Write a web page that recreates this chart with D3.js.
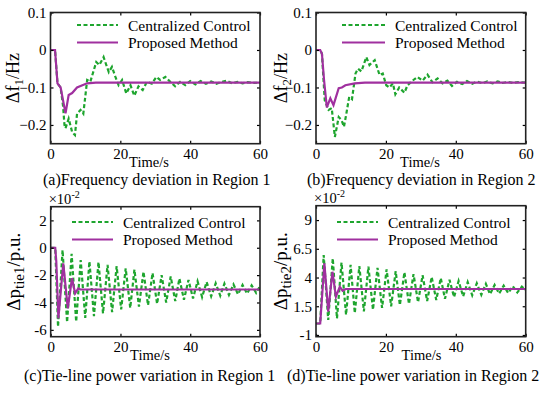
<!DOCTYPE html>
<html>
<head>
<meta charset="utf-8">
<script src="https://cdn.jsdelivr.net/npm/d3@7"></script>
<style>
  body { margin: 0; background: #fff; }
  svg text { font-family: "Liberation Serif", "Times New Roman", serif; }
</style>
</head>
<body>
<svg id="chart" width="550" height="395"></svg>
<script>
// tick labels
const timeTicks = [0, 20, 40, 60]
const freqTicks = [0.1, 0, -0.1, -0.2]
const tie1Ticks = [2, 0, -2, -4, -6]
const tie2Ticks = [9, 6.5, 4, 1.5, -1]

// series, [time s, value]
const f1Central = [[0,0],[1.3,0],[2.0,-0.089],[2.9,-0.1],[3.6,-0.15],[4.0,-0.2],[4.3,-0.209],[5.2,-0.183],[6.2,-0.219],[7.0,-0.227],[7.6,-0.17],[8.6,-0.16],[9.4,-0.17],[10.5,-0.08],[11.4,-0.085],[13.1,-0.032],[14.0,-0.04],[15.2,-0.019],[16.7,-0.059],[17.6,-0.045],[18.6,-0.072],[19.5,-0.094],[20.5,-0.08],[21.7,-0.116],[22.9,-0.094],[24.0,-0.122],[25.2,-0.097],[26.4,-0.107],[27.6,-0.085],[29.0,-0.09],[30.3,-0.072],[31.4,-0.08],[32.9,-0.072],[34.3,-0.085],[35.7,-0.097],[37.1,-0.085],[38.6,-0.094],[40,-0.083],[41.5,-0.092],[43,-0.083],[44.5,-0.09],[46,-0.084],[47.5,-0.09],[49,-0.085],[50.5,-0.082],[52,-0.089],[53.5,-0.085],[55,-0.089],[56.5,-0.086],[58,-0.088],[60,-0.087]]
const f1Proposed = [[0,0],[1.3,0],[2.0,-0.089],[2.9,-0.1],[4.3,-0.169],[5.2,-0.12],[6.2,-0.115],[7.6,-0.1],[10.5,-0.089],[13,-0.087],[60,-0.087]]

const f2Central = [[0,0],[1.2,0],[1.7,-0.01],[2.5,-0.134],[3.6,-0.16],[4.5,-0.155],[5.4,-0.232],[6.5,-0.179],[7.3,-0.187],[8.0,-0.205],[8.7,-0.169],[9.5,-0.125],[10.3,-0.131],[11.3,-0.063],[12.0,-0.05],[13.0,-0.057],[14.4,-0.019],[15.3,-0.04],[16.8,-0.027],[18.2,-0.067],[19.1,-0.063],[20.1,-0.094],[21.0,-0.1],[22.0,-0.089],[22.7,-0.118],[23.8,-0.1],[25.3,-0.114],[26.2,-0.094],[27.6,-0.082],[29.0,-0.072],[30.5,-0.082],[31.9,-0.066],[33.3,-0.086],[34.8,-0.076],[36.2,-0.089],[37.6,-0.082],[38.9,-0.096],[40.3,-0.085],[41.8,-0.091],[43.2,-0.083],[44.7,-0.09],[46.1,-0.084],[47.6,-0.089],[49,-0.084],[50.5,-0.089],[52,-0.084],[53.4,-0.088],[54.9,-0.085],[56.3,-0.088],[57.8,-0.086],[60,-0.087]]
const f2Proposed = [[0,0],[1.2,0],[1.7,-0.01],[2.3,-0.08],[3.1,-0.153],[4.1,-0.129],[5.0,-0.147],[6.5,-0.102],[7.4,-0.1],[8.4,-0.094],[11.1,-0.089],[14,-0.087],[60,-0.087]]

const tie1Central = [[0,0],[1.3,0],[2.1,-5.77],[3.4,-0.17],[4.7,-5.45],[6.0,-0.45],[7.3,-5.4],[8.6,-0.9],[9.9,-5.12],[11.1,-1.0],[12.4,-5.0],[13.7,-1.05],[15.0,-4.8],[16.3,-1.25],[17.6,-4.7],[18.9,-1.35],[20.2,-4.5],[21.5,-1.5],[22.8,-4.4],[24.0,-1.6],[25.3,-4.3],[26.6,-1.75],[27.9,-4.2],[29.2,-1.85],[30.5,-4.1],[31.8,-2.0],[33.1,-4.0],[34.4,-2.1],[35.7,-3.9],[36.9,-2.25],[38.2,-3.8],[39.5,-2.35],[40.8,-3.7],[42.1,-2.45],[43.4,-3.6],[44.7,-2.5],[46.0,-3.55],[47.3,-2.6],[48.6,-3.5],[49.8,-2.62],[51.1,-3.45],[52.4,-2.68],[53.7,-3.4],[55.0,-2.72],[56.3,-3.35],[57.6,-2.75],[58.9,-3.3],[60,-2.8]]
const tie1Proposed = [[0,0],[1.3,0],[1.6,-1.0],[2.2,-5.16],[3.6,-1.14],[4.9,-4.43],[6.1,-2.23],[7.0,-3.33],[7.9,-2.97],[8.5,-3.05],[60,-3.05]]

const tie2Central = [[0,0],[1.2,0],[2.2,5.96],[3.5,0.3],[4.8,5.67],[6.0,0.45],[7.3,5.3],[8.6,0.75],[9.9,5.1],[11.1,0.9],[12.4,5.0],[13.7,1.05],[15.0,4.95],[16.3,1.2],[17.6,4.85],[18.9,1.35],[20.2,4.7],[21.5,1.5],[22.8,4.55],[24.0,1.6],[25.3,4.45],[26.6,1.7],[27.9,4.3],[29.2,1.85],[30.5,4.2],[31.8,1.95],[33.1,4.05],[34.4,2.05],[35.7,3.95],[36.9,2.15],[38.2,3.8],[39.5,2.3],[40.8,3.7],[42.1,2.35],[43.4,3.6],[44.7,2.45],[46.0,3.5],[47.3,2.5],[48.6,3.45],[49.8,2.55],[51.1,3.35],[52.4,2.6],[53.7,3.3],[55.0,2.65],[56.3,3.25],[57.6,2.7],[58.9,3.2],[60,2.9]]
const tie2Proposed = [[0,0],[1.2,0],[2.4,5.24],[3.5,1.03],[4.7,4.5],[5.7,2.33],[6.8,3.2],[7.6,2.85],[8.5,3.0],[60,3.0]]

const legendNames = ["Centralized Control", "Proposed Method"]
const captions = ["(a)Frequency deviation in Region 1", "(b)Frequency deviation in Region 2",
                  "(c)Tie-line power variation in Region 1", "(d)Tie-line power variation in Region 2"]

const green = "#1ea52e"
const purple = "#a0309f"

const svg = d3.select("#chart")

const panels = [
  {l: 50.5, t: 12.5, r: 260, b: 143.7, ydom: [-0.25, 0.1], yticks: freqTicks, fmt: d => d === 0 ? "0" : d3.format(".1f")(d),
   central: f1Central, proposed: f1Proposed, ylab: ["Δf", "1", "/Hz"], ylfs: [18, 13], ylx: 19, xlab: 149,
   leg: [77, 118, 25], cap: [43, 185], exp: false},
  {l: 316, t: 12.5, r: 525.7, b: 143.7, ydom: [-0.25, 0.1], yticks: freqTicks, fmt: d => d === 0 ? "0" : d3.format(".1f")(d),
   central: f2Central, proposed: f2Proposed, ylab: ["Δf", "2", "/Hz"], ylfs: [18, 13], ylx: 287, xlab: 420,
   leg: [342, 385, 25], cap: [307, 185], exp: false},
  {l: 50.7, t: 206.7, r: 260, b: 336.7, ydom: [-6.5, 3], yticks: tie1Ticks, fmt: d => String(d),
   central: tie1Central, proposed: tie1Proposed, ylab: ["Δp", "tie1", "/p.u."], ylfs: [19, 15], ylx: 20, xlab: 150,
   leg: [72, 113, 222], cap: [24, 381], exp: true},
  {l: 316, t: 205.7, r: 525.7, b: 336.7, ydom: [-1.15, 10.25], yticks: tie2Ticks, fmt: d => String(d),
   central: tie2Central, proposed: tie2Proposed, ylab: ["Δp", "tie2", "/p.u."], ylfs: [19, 15], ylx: 287, xlab: 421.5,
   leg: [337, 378, 222], cap: [287, 381], exp: true}
]

panels.forEach((p, i) => {
  const x = d3.scaleLinear().domain([0, 60]).range([p.l, p.r])
  const y = d3.scaleLinear().domain(p.ydom).range([p.b, p.t])
  const g = svg.append("g")

  const line = d3.line().x(d => x(d[0])).y(d => y(d[1]))
  const clipId = "clip" + i
  g.append("clipPath").attr("id", clipId).append("rect")
    .attr("x", p.l).attr("y", p.t).attr("width", p.r - p.l).attr("height", p.b - p.t)

  g.append("path").datum(p.central)
    .attr("clip-path", `url(#${clipId})`)
    .attr("d", line).attr("fill", "none")
    .attr("stroke", green).attr("stroke-width", 2.2).attr("stroke-dasharray", "4,2.5")
  g.append("path").datum(p.proposed)
    .attr("clip-path", `url(#${clipId})`)
    .attr("d", line).attr("fill", "none")
    .attr("stroke", purple).attr("stroke-width", 2.2)

  // axes with inward ticks
  const ax = (a) => a.tickSize(-3).tickPadding(4)
  g.append("g").attr("transform", `translate(0,${p.b})`)
    .call(ax(d3.axisBottom(x).tickValues(timeTicks).tickFormat(d3.format("d"))).tickPadding(5))
  g.append("g").attr("transform", `translate(${p.l},0)`)
    .call(ax(d3.axisLeft(y).tickValues(p.yticks).tickFormat(p.fmt)))
  g.append("g").attr("transform", `translate(0,${p.t})`)
    .call(ax(d3.axisTop(x).tickValues(timeTicks).tickFormat("")))
  g.append("g").attr("transform", `translate(${p.r},0)`)
    .call(ax(d3.axisRight(y).tickValues(p.yticks).tickFormat("")))
  g.selectAll(".domain").remove()
  g.selectAll(".tick line").attr("stroke", "#000").attr("stroke-width", 1.2)
  g.selectAll(".tick text").attr("font-size", 15).attr("fill", "#000")
    .style("font-family", '"Liberation Serif", serif')

  g.append("rect").attr("x", p.l).attr("y", p.t)
    .attr("width", p.r - p.l).attr("height", p.b - p.t)
    .attr("fill", "none").attr("stroke", "#222").attr("stroke-width", 1.6)

  // axis titles
  g.append("text").attr("x", p.xlab).attr("y", p.b + 23)
    .attr("text-anchor", "middle").attr("font-size", 14.5).text("Time/s")

  const yl = g.append("text")
    .attr("transform", `translate(${p.ylx},${(p.t + p.b) / 2}) rotate(-90)`)
    .attr("text-anchor", "middle").attr("font-size", p.ylfs[0])
  yl.append("tspan").text(p.ylab[0])
  yl.append("tspan").attr("font-size", p.ylfs[1]).attr("dy", 4).text(p.ylab[1])
  yl.append("tspan").attr("dy", -4).text(p.ylab[2])

  if (p.exp) {
    const e = g.append("text").attr("x", p.l - 2).attr("y", p.t - 3).attr("font-size", 14.5)
    e.append("tspan").text("×10")
    e.append("tspan").attr("font-size", 10).attr("dy", -6).text("-2")
  }

  // legend
  const [lx0, lx1, ly] = p.leg
  const items = [{c: green, dash: "4,2.5"}, {c: purple, dash: null}]
  items.forEach((it, k) => {
    const yy = ly + k * 17.5
    g.append("line").attr("x1", lx0).attr("x2", lx1).attr("y1", yy).attr("y2", yy)
      .attr("stroke", it.c).attr("stroke-width", 2.2).attr("stroke-dasharray", it.dash)
    g.append("text").attr("x", lx1 + 10).attr("y", yy + 5.5)
      .attr("font-size", 15.5).text(legendNames[k])
  })

  g.append("text").attr("x", p.cap[0]).attr("y", p.cap[1])
    .attr("font-size", 16).text(captions[i])
})
</script>
</body>
</html>
